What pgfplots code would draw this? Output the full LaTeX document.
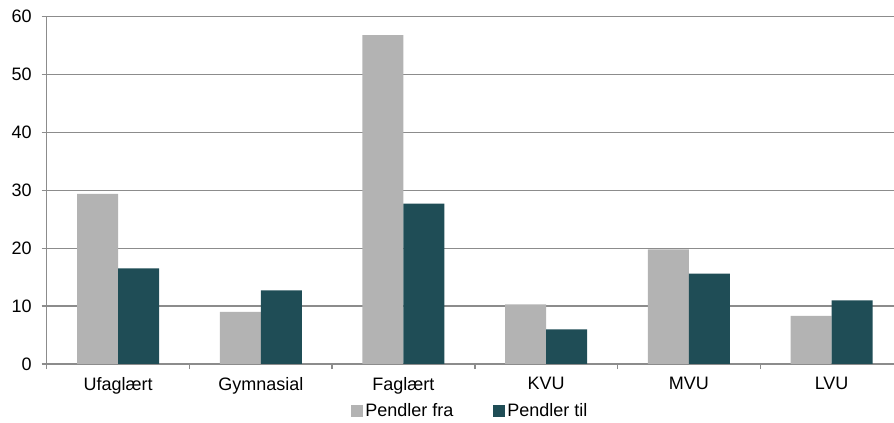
\documentclass[border=0pt]{standalone}
\usepackage{fontspec}
\setmainfont{Liberation Sans}
\usepackage{pgfplots}
\pgfplotsset{compat=1.18}

\definecolor{fra}{RGB}{179,179,179}
\definecolor{til}{RGB}{31,77,86}
\definecolor{gridc}{RGB}{140,140,140}

\begin{document}
\begin{tikzpicture}
\begin{axis}[
    at={(0,0)}, anchor=south west,
    scale only axis,
    width=847.3bp, height=347.3bp,
    ybar=0pt,
    bar width=41bp,
    xmin=-0.5, xmax=5.437,
    ymin=0, ymax=60,
    ytick={0,10,...,60},
    xtick={0,...,5},
    xticklabels={Ufaglært,Gymnasial,Faglært,KVU,MVU,LVU},
    minor xtick={-0.5,0.5,...,5.5},
    axis x line*=bottom,
    axis y line*=left,
    axis line style={-, gridc, line width=1.3bp},
    ymajorgrids,
    grid style={gridc, line width=1.3bp},
    tick align=outside,
    tick style={gridc, line width=1.3bp},
    major tick length=5bp,
    minor tick length=5bp,
    major x tick style={draw=none},
    tick label style={font=\fontsize{18bp}{21bp}\selectfont},
    /pgf/number format/assume math mode=true,
    xticklabel style={yshift=-5bp},
    yticklabel style={xshift=-6.5bp},
    legend style={
        at={(0.5,-59bp)}, anchor=south,
        yshift=1bp,
        draw=none, fill=none,
        font=\fontsize{18bp}{21bp}\selectfont,
        legend columns=2,
        /tikz/every even column/.append style={column sep=38bp},
    },
    legend image code/.code={
        \fill[#1] (0bp,-6bp) rectangle (12bp,6bp);
    },
]
\addplot[fill=fra, draw=none] coordinates {
    (0,29.4) (1,9.0) (2,56.8) (3,10.3) (4,19.8) (5,8.3)
};
\addplot[fill=til, draw=none] coordinates {
    (0,16.5) (1,12.7) (2,27.7) (3,6.0) (4,15.6) (5,11.0)
};
\legend{Pendler fra,Pendler til}
\end{axis}
\pgfresetboundingbox
\useasboundingbox (-46.7bp,-59bp) rectangle (847.3bp,364bp);
\end{tikzpicture}
\end{document}
